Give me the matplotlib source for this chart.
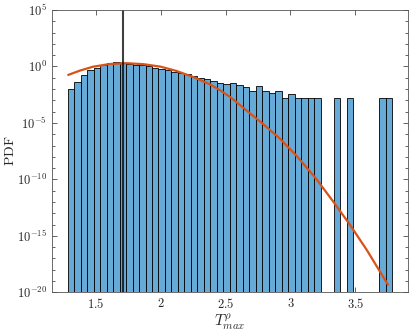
import numpy as np
import matplotlib
matplotlib.use('Agg')
import matplotlib.pyplot as plt
from matplotlib.ticker import FixedLocator, NullFormatter

plt.rcParams['mathtext.fontset'] = 'cm'
plt.rcParams['font.family'] = ['DejaVu Serif']

# histogram (pdf normalised), 50 bins
bin_start = 1.283
bin_width = 0.05004
pdf_values = [1.0e-2, 4.4e-2, 0.17, 0.51, 0.76, 1.26, 2.0, 2.3, 2.0, 1.55,
              1.41, 1.26, 1.02, 0.76, 0.59, 0.48, 0.34, 0.275, 0.214, 0.141,
              0.087, 0.076, 0.054, 0.032, 0.030, 0.032, 0.021, 0.0158, 0.0066, 0.0174,
              0.0066, 0.0047, 0.0066, 0.0017, 0.0034, 0.0017, 0.0017, 0.0017, 0.0017, 0,
              0, 0.0017, 0, 0.0017, 0, 0, 0, 0, 0.0017, 0.0017]

# fitted curve (x, log10 pdf)
fit_x = [1.29, 1.38, 1.48, 1.61, 1.74, 1.87, 2.00, 2.12, 2.25, 2.38, 2.46,
         2.54, 2.66, 2.79, 2.92, 3.05, 3.20, 3.33, 3.46, 3.59, 3.75]
fit_log10 = [-0.74, -0.36, -0.02, 0.22, 0.29, 0.20, -0.02, -0.39, -0.93, -1.58, -2.12,
             -2.74, -3.88, -5.10, -6.40, -7.95, -9.97, -11.97, -14.04, -16.28, -19.30]

# vertical marker
x_mark = 1.713

xticks = [1.5, 2, 2.5, 3, 3.5]
xtick_labels = ['1.5', '2', '2.5', '3', '3.5']

fig = plt.figure(figsize=(4.12, 3.31), dpi=100)
ax = fig.add_axes([0.1262, 0.1169, 0.8638, 0.8529])

pdf = np.array(pdf_values)
lefts = bin_start + bin_width * np.arange(len(pdf))
keep = pdf > 0
ax.bar(lefts[keep], pdf[keep] - 1e-25, width=bin_width, bottom=1e-25, align='edge',
       color=(0.4, 0.667, 0.843), edgecolor='black', linewidth=0.6, zorder=2)

ax.plot(fit_x, 10 ** np.array(fit_log10), color='#D95319', linewidth=1.6, zorder=3)
ax.axvline(x_mark, color='black', alpha=0.75, linewidth=1.5, zorder=4)

ax.set_yscale('log')
ax.set_ylim(1e-20, 1e5)
ax.set_xlim(1.163, 3.905)

ax.yaxis.set_major_locator(FixedLocator([1e-20, 1e-15, 1e-10, 1e-5, 1e0, 1e5]))
ax.yaxis.set_minor_locator(FixedLocator([10.0 ** k for k in range(-20, 6)]))
ax.yaxis.set_minor_formatter(NullFormatter())
ax.set_yticklabels([r'$10^{-20}$', r'$10^{-15}$', r'$10^{-10}$', r'$10^{-5}$',
                    r'$10^{0}$', r'$10^{5}$'])
ax.set_xticks(xticks)
ax.set_xticklabels(['$' + t + '$' for t in xtick_labels])

ax.tick_params(which='both', direction='in', top=True, right=True,
               colors='#262626', labelsize=9, width=0.5)
ax.tick_params(which='major', length=3.5)
ax.tick_params(which='minor', length=2)
for s in ax.spines.values():
    s.set_color('#555555')
    s.set_linewidth(0.6)
    s.set_zorder(5)

ax.set_xlabel(r'$T^{\rho}_{max}$', fontsize=11, color='#262626', labelpad=1)
ax.set_ylabel(r'$\mathrm{PDF}$', fontsize=10, color='#262626')
ax.yaxis.set_label_coords(-0.098, 0.5)

fig.savefig('out.png', dpi=100)
